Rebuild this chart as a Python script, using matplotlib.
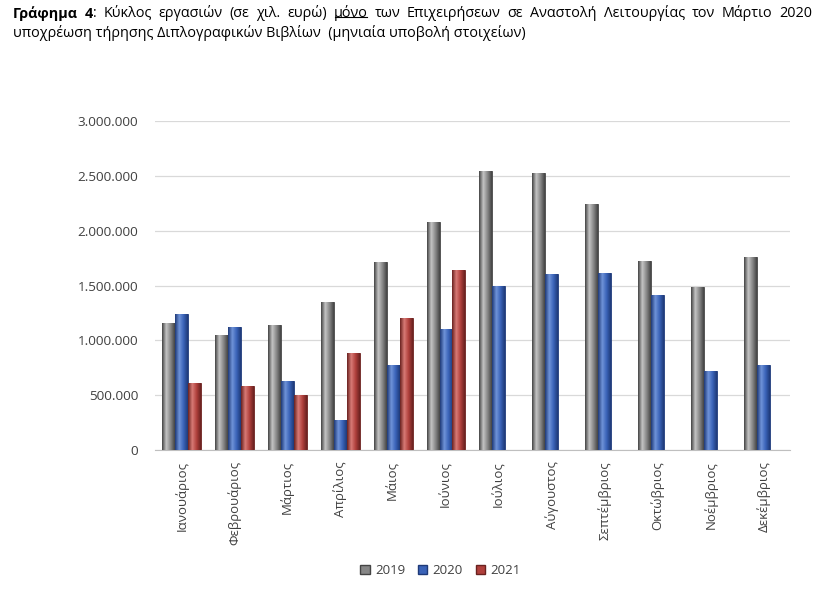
import matplotlib
matplotlib.use("Agg")
import matplotlib.pyplot as plt
import numpy as np
from matplotlib.colors import LinearSegmentedColormap
from matplotlib.lines import Line2D
from matplotlib.patches import Patch
from matplotlib.ticker import FuncFormatter

months = ["Ιανουάριος", "Φεβρουάριος", "Μάρτιος", "Απρίλιος", "Μάιος", "Ιούνιος",
          "Ιούλιος", "Αύγουστος", "Σεπτέμβριος", "Οκτώβριος", "Νοέμβριος", "Δεκέμβριος"]
years = ["2019", "2020", "2021"]
v2019 = [1158000, 1050000, 1140000, 1350000, 1710000, 2080000,
         2540000, 2525000, 2240000, 1720000, 1490000, 1760000]
v2020 = [1240000, 1120000, 630000, 270000, 775000, 1100000,
         1495000, 1605000, 1615000, 1415000, 720000, 775000]
v2021 = [610000, 580000, 500000, 880000, 1200000, 1640000]

# title line 1 words: (text, bold, underlined, attached to previous word)
title_words = [("Γράφημα", True, False, False), ("4", True, False, False),
               (":", False, False, True), ("Κύκλος", False, False, False),
               ("εργασιών", False, False, False), ("(σε", False, False, False),
               ("χιλ.", False, False, False), ("ευρώ)", False, False, False),
               ("μόνο", False, True, False), ("των", False, False, False),
               ("Επιχειρήσεων", False, False, False), ("σε", False, False, False),
               ("Αναστολή", False, False, False), ("Λειτουργίας", False, False, False),
               ("τον", False, False, False), ("Μάρτιο", False, False, False),
               ("2020", False, False, False)]
title_line2 = "υποχρέωση τήρησης Διπλογραφικών Βιβλίων  (μηνιαία υποβολή στοιχείων)"

# (light, mid, dark) shades for the bevelled look
shades = {
    "2019": ("#c4c4c4", "#878787", "#444444"),
    "2020": ("#6f93d8", "#3a63b8", "#1f3a78"),
    "2021": ("#d87a76", "#b0403c", "#6a2220"),
}

plt.rcParams["font.family"] = ["Open Sans", "DejaVu Sans"]

fig = plt.figure(figsize=(8.16, 5.91), dpi=100)
ax = fig.add_axes([0.19, 0.2386, 0.778, 0.5566])

x = np.arange(len(months))
width = 0.245
series = [v2019, v2020, v2021]

for i, (yr, vals) in enumerate(zip(years, series)):
    light, mid, dark = shades[yr]
    cmap = LinearSegmentedColormap.from_list(yr, [dark, light, mid, dark])
    xs = x[:len(vals)] + (i - 1) * width
    bars = ax.bar(xs, vals, width, color=mid, edgecolor=dark, linewidth=0.6, zorder=2)
    grad = np.linspace(0, 1, 64).reshape(1, -1)
    for b in bars:
        x0, y0 = b.get_x(), b.get_y()
        im = ax.imshow(grad, cmap=cmap, aspect="auto", zorder=3,
                       extent=(x0, x0 + b.get_width(), y0, y0 + b.get_height()))
        im.set_clip_path(b)

ax.set_xlim(-0.5, len(months) - 0.5)
ax.set_ylim(0, 3000000)
ax.set_yticks(np.arange(0, 3000001, 500000))
ax.yaxis.set_major_formatter(FuncFormatter(lambda v, p: f"{int(v):,}".replace(",", ".")))
ax.grid(axis="y", color="#d9d9d9", linewidth=0.9, zorder=0)
ax.set_axisbelow(True)
for s in ["top", "right", "left"]:
    ax.spines[s].set_visible(False)
ax.spines["bottom"].set_color("#bfbfbf")
ax.set_xticks(x)
ax.set_xticklabels(months, rotation=90, fontsize=9.5, color="#404040")
ax.tick_params(axis="y", length=0, labelsize=9.7, labelcolor="#404040", pad=12)
ax.tick_params(axis="x", length=0, pad=8)

handles = [Patch(facecolor=shades[yr][1], edgecolor=shades[yr][2], label=yr) for yr in years]
fig.legend(handles=handles, loc="center", bbox_to_anchor=(0.54, 0.035), ncol=3,
           frameon=False, fontsize=9.5, handlelength=0.7, handleheight=0.7,
           handletextpad=0.4, columnspacing=1.0, labelcolor="#404040")

# Title: line 1 is justified, so words are placed one by one
fs = 10.4
left_px = 13
right_px = 812
y1 = 0.965
r = fig.canvas.get_renderer()
texts = []
for w, bold, und, att in title_words:
    t = fig.text(0, y1, w, fontsize=fs, va="bottom",
                 fontweight="bold" if bold else "normal")
    texts.append((t, und, att))
fig.text(left_px / fig.bbox.width, 0.93, title_line2, fontsize=fs, va="bottom")

fig.canvas.draw()
widths = [t.get_window_extent(r).width for t, _, _ in texts]
n_gaps = sum(1 for k, (_, _, att) in enumerate(texts) if k > 0 and not att)
gap = (right_px - left_px - sum(widths)) / n_gaps
pos = left_px
for k, ((t, und, att), wdt) in enumerate(zip(texts, widths)):
    if k > 0 and not att:
        pos += gap
    t.set_x(pos / fig.bbox.width)
    pos += wdt
fig.canvas.draw()
for t, und, att in texts:
    if und:
        bb = t.get_window_extent(r)
        uy = bb.y0 + 0.2 * bb.height
        fig.add_artist(Line2D([bb.x0 + 1, bb.x1 - 1], [uy, uy], color="black",
                              linewidth=0.8, transform=None))

fig.savefig("out.png", dpi=100)
